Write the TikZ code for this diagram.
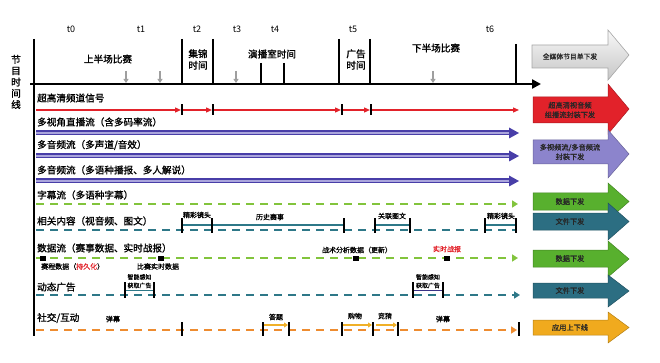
\documentclass[tikz,border=0pt]{standalone}
\usepackage{fontspec}
\setmainfont{Noto Sans CJK SC}
\newfontfamily\heavy[FakeBold=1.3]{Noto Sans CJK SC}
\newfontfamily\semiheavy[FakeBold=0.8]{Noto Sans CJK SC}
\usetikzlibrary{arrows.meta}
\definecolor{redc}{RGB}{226,34,42}
\definecolor{purd}{RGB}{72,62,168}
\definecolor{purl}{RGB}{170,165,220}
\definecolor{purf}{RGB}{140,132,204}
\definecolor{greenl}{RGB}{130,196,60}
\definecolor{greenf}{RGB}{88,176,46}
\definecolor{tealc}{RGB}{46,120,136}
\definecolor{tealf}{RGB}{44,110,130}
\definecolor{orangec}{RGB}{238,140,48}
\definecolor{orangef}{RGB}{240,170,30}
\definecolor{yelc}{RGB}{240,176,40}
\newcommand\bigarrow[8]{%
  \path[fill=#2, draw=#2!75!black, line width=0.5pt] (533,#3) -- (608,#3) -- (608,#5) -- (629,{(#5+#6)/2}) -- (608,#6) -- (608,#4) -- (533,#4) -- cycle;
  \node[arrowtext] (#1) at (570,{(#3+#4)/2}) {#7};}
\begin{document}
\begin{tikzpicture}[x=1pt,y=-1pt,
  rowlabel/.style={anchor=west, font=\heavy\fontsize{9.6}{11}\selectfont, inner sep=0pt},
  tlabel/.style={font=\fontsize{9}{10}\selectfont, inner sep=0pt},
  seglabel/.style={font=\heavy\fontsize{9.6}{11.5}\selectfont, inner sep=0pt, align=center},
  small/.style={font=\semiheavy\fontsize{7}{8}\selectfont, inner sep=0pt},
  tiny/.style={font=\semiheavy\fontsize{6}{7}\selectfont, inner sep=0pt},
  arrowtext/.style={font=\semiheavy\fontsize{7.2}{9.5}\selectfont, inner sep=0pt, align=center, text=black!85},
  axis/.style={line width=2.4pt, black},
  tick/.style={line width=1.9pt, black},
  rtick/.style={line width=1.5pt, black},
  dashline/.style={line width=2.3pt, dash pattern=on 8pt off 6pt},
  grayarr/.style={line width=1.5pt, gray!75, -{Triangle[length=4pt,width=5pt]}},
  redarr/.style={line width=1.3pt, redc, -{Triangle[length=6pt,width=5pt]}},
  purline/.style={line width=5pt, purd},
  purinner/.style={line width=1.6pt, purl},
]
\useasboundingbox (0,0) rectangle (660,363);

% left label
\node[align=center, font=\heavy\fontsize{9.6}{11.3}\selectfont, inner sep=0pt] (ylabel) at (16,82) {节\\目\\时\\间\\线};

% axes
\coordinate (vt) at (34,39);
\coordinate (vb) at (34,336);
\draw[axis] (vt) -- (vb);
\coordinate (hl) at (30,84);
\coordinate (hr) at (541,84);
\draw[axis, -{Triangle[length=9pt,width=9pt]}] (hl) -- (hr);

% timeline ticks
\foreach \x/\y in {182/39, 213/39, 261/63, 284/63, 339/39, 370/39, 516/44}
  \draw[tick] (\x,\y) -- (\x,84);
\foreach \x in {126,160,236,433}
  \draw[grayarr] (\x,71) -- (\x,83);

% t labels
\foreach \n/\x in {0/71,1/141,2/197,3/237,4/275,5/353,6/490}
  \node[tlabel] (t\n) at (\x,29) {t\n};

\node[seglabel] (half1) at (108,59) {上半场比赛};
\node[seglabel] (jj) at (198,59.5) {集锦\\时间};
\node[seglabel] (yb) at (272,54) {演播室时间};
\node[seglabel] (gg) at (356,59.5) {广告\\时间};
\node[seglabel] (half2) at (436,48) {下半场比赛};

% row labels
\node[rowlabel] (r1) at (37,98) {超高清频道信号};
\node[rowlabel] (r2) at (37,122) {多视角直播流（含多码率流）};
\node[rowlabel] (r3) at (37,145) {多音频流（多声道/音效）};
\node[rowlabel] (r4) at (37,170) {多音频流（多语种播报、多人解说）};
\node[rowlabel] (r5) at (37,195) {字幕流（多语种字幕）};
\node[rowlabel] (r6) at (37,221) {相关内容（视音频、图文）};
\node[rowlabel] (r7) at (37,248) {数据流（赛事数据、实时战报）};
\node[rowlabel] (r8) at (37,287) {动态广告};
\node[rowlabel] (r9) at (37,318) {社交/互动};

% row 1 red
\foreach \a/\b in {36/181, 183/212, 214/341, 343/370, 372/519}
  \draw[redarr] (\a,110) -- (\b,110);
\foreach \x in {182,213,342,371}
  \draw[rtick] (\x,104.5) -- (\x,115.5);

% purple rows
\foreach \y in {133,156,181} {
  \draw[purline] (36,\y) -- (512,\y);
  \draw[purinner] (36,\y) -- (512,\y);
  \fill[purd] (509,{\y-5.5}) -- (519,\y) -- (509,{\y+5.5}) -- cycle;
}

% row 5 subtitles
\draw[dashline, greenl, -{Triangle[length=6pt,width=7pt]}] (36,204) -- (518,204);

% row 6 related content
\draw[dashline, tealc] (36,230) -- (516,230);
\foreach \a/\b in {182/344, 375/410, 485/516}
  \draw[line width=1.6pt, tealc] (\a,225) -- (\b,225);
\foreach \x in {182,212,344,375,410,485,516}
  \draw[rtick] (\x,218) -- (\x,233);
\node[small] (c1) at (197,215) {精彩镜头};
\node[small] (c2) at (270,217) {历史赛事};
\node[small] (c3) at (392,216) {关联图文};
\node[small] (c4) at (501,216) {精彩镜头};

% row 7 data
\draw[dashline, greenl, -{Triangle[length=6pt,width=7pt]}] (36,258) -- (518,258);
\foreach \x in {43,161,356,447}
  \fill[black] ({\x-3},255.5) rectangle ({\x+3},260.5);
\node[small, anchor=west] (d1) at (41,266.5) {赛程数据（\textcolor{redc}{持久化}）};
\node[small] (d2) at (158,266.5) {比赛实时数据};
\node[small] (d3) at (357,250) {战术分析数据（更新）};
\node[small, text=redc] (d4) at (447,249) {实时战报};

% row 8 ads
\draw[dashline, tealc, -{Triangle[length=6pt,width=7pt]}] (36,295) -- (520,295);
\draw[line width=1.6pt, tealc] (125,290.5) -- (154,290.5);
\draw[line width=1.6pt, purd!80!black] (413,290.5) -- (443,290.5);
\foreach \x in {125,154,413,443}
  \draw[rtick] (\x,282) -- (\x,298);
\node[tiny] (a1) at (139.5,277) {智能感知};
\node[tiny] (a2) at (139.5,285.5) {获取广告};
\node[tiny] (a3) at (428,277) {智能感知};
\node[tiny] (a4) at (428,285.5) {获取广告};

% row 9 social
\draw[dashline, orangec, -{Triangle[length=6pt,width=7pt]}] (36,330) -- (517,330);
\foreach \a/\b in {264/288, 343/372, 376/397}
  \draw[line width=2pt, yelc, -{Triangle[length=4pt,width=5pt]}] (\a,325) -- (\b,325);
\foreach \x in {182,263,289,342,373,398,519}
  \draw[rtick] (\x,322) -- (\x,336);
\node[small] (s1) at (113,319) {弹幕};
\node[small] (s2) at (276,317) {答题};
\node[small] (s3) at (355,316) {购物};
\node[small] (s4) at (385,316) {竞猜};
\node[small] (s5) at (443,319) {弹幕};

% big right arrows
\path[draw=gray!70, top color=gray!5, bottom color=gray!45, line width=0.6pt] (532,45) -- (608,45) -- (608,30) -- (629,55) -- (608,80) -- (608,68) -- (532,68) -- cycle;
\node[arrowtext, font=\heavy\fontsize{6.8}{8}\selectfont] (g0) at (570,56.5) {全媒体节目单下发};
\bigarrow{g1}{redc}{97}{123}{84}{134}{超高清视音频\\组播流封装下发}{}
\bigarrow{g2}{purf}{140}{164}{130}{178}{多视频流/多音频流\\封装下发}{}
\bigarrow{g3}{greenf}{193}{210}{183}{220}{数据下发}{}
\bigarrow{g4}{tealf}{213}{230}{203}{240}{文件下发}{}
\bigarrow{g5}{greenf}{250}{267}{241}{277}{数据下发}{}
\bigarrow{g6}{tealf}{283}{298}{275}{307}{文件下发}{}
\bigarrow{g7}{orangef}{320}{335}{312}{343}{应用上下线}{}
\end{tikzpicture}
\end{document}
